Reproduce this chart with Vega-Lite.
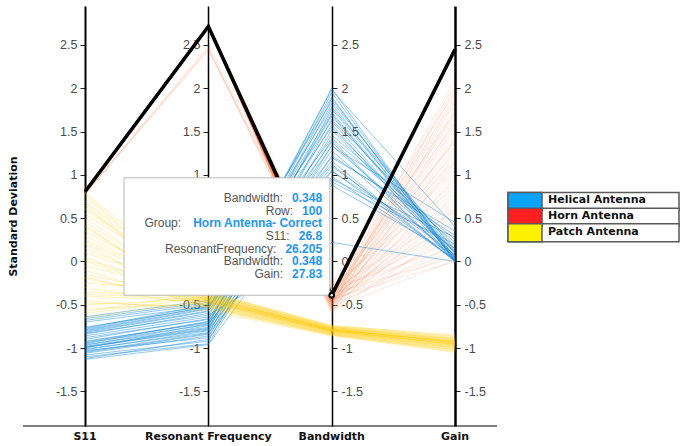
{
  "$schema": "https://vega.github.io/schema/vega-lite/v6.json",
  "padding": {"left": 7, "top": 6, "right": 4, "bottom": 2},
  "background": "white",
  "config": {"view": {"stroke": null}, "font": "Liberation Sans"},
  "center": true,
  "spacing": 9,
  "datasets": {
    "dims": [
      {"dim": "S11", "pos": 0, "label": "S11"},
      {"dim": "ResonantFrequency", "pos": 1, "label": "Resonant Frequency"},
      {"dim": "Bandwidth", "pos": 2, "label": "Bandwidth"},
      {"dim": "Gain", "pos": 3, "label": "Gain"}
    ],
    "groups": [
      {"group": "Helical Antenna"},
      {"group": "Horn Antenna"},
      {"group": "Patch Antenna"}
    ],
    "tip": [
      {"line": 1, "label": "Bandwidth:", "value": "0.348"},
      {"line": 2, "label": "Row:", "value": "100"},
      {"line": 3, "label": "Group:", "value": "Horn Antenna- Correct"},
      {"line": 4, "label": "S11:", "value": "26.8"},
      {"line": 5, "label": "ResonantFrequency:", "value": "26.205"},
      {"line": 6, "label": "Bandwidth:", "value": "0.348"},
      {"line": 7, "label": "Gain:", "value": "27.83"}
    ],
    "antennas": [
      {"row": 1, "group": "Helical Antenna", "S11": -1.00, "ResonantFrequency": -0.74, "Bandwidth": 2.00, "Gain": 0.00},
      {"row": 2, "group": "Helical Antenna", "S11": -0.99, "ResonantFrequency": -0.78, "Bandwidth": 1.95, "Gain": 0.02},
      {"row": 3, "group": "Helical Antenna", "S11": -1.02, "ResonantFrequency": -0.80, "Bandwidth": 1.88, "Gain": 0.05},
      {"row": 4, "group": "Helical Antenna", "S11": -0.97, "ResonantFrequency": -0.72, "Bandwidth": 1.82, "Gain": 0.00},
      {"row": 5, "group": "Helical Antenna", "S11": -1.05, "ResonantFrequency": -0.84, "Bandwidth": 1.76, "Gain": 0.10},
      {"row": 6, "group": "Helical Antenna", "S11": -0.93, "ResonantFrequency": -0.70, "Bandwidth": 1.70, "Gain": 0.03},
      {"row": 7, "group": "Helical Antenna", "S11": -1.03, "ResonantFrequency": -0.88, "Bandwidth": 1.64, "Gain": 0.18},
      {"row": 8, "group": "Helical Antenna", "S11": -0.96, "ResonantFrequency": -0.76, "Bandwidth": 1.58, "Gain": 0.00},
      {"row": 9, "group": "Helical Antenna", "S11": -1.08, "ResonantFrequency": -0.92, "Bandwidth": 1.52, "Gain": 0.06},
      {"row": 10, "group": "Helical Antenna", "S11": -0.95, "ResonantFrequency": -0.69, "Bandwidth": 1.46, "Gain": 0.25},
      {"row": 11, "group": "Helical Antenna", "S11": -1.01, "ResonantFrequency": -0.82, "Bandwidth": 1.40, "Gain": 0.01},
      {"row": 12, "group": "Helical Antenna", "S11": -1.10, "ResonantFrequency": -0.95, "Bandwidth": 1.34, "Gain": 0.12},
      {"row": 13, "group": "Helical Antenna", "S11": -0.98, "ResonantFrequency": -0.77, "Bandwidth": 1.28, "Gain": 0.04},
      {"row": 14, "group": "Helical Antenna", "S11": -1.12, "ResonantFrequency": -0.90, "Bandwidth": 1.22, "Gain": 0.30},
      {"row": 15, "group": "Helical Antenna", "S11": -0.94, "ResonantFrequency": -0.73, "Bandwidth": 1.16, "Gain": 0.00},
      {"row": 16, "group": "Helical Antenna", "S11": -1.06, "ResonantFrequency": -0.86, "Bandwidth": 1.10, "Gain": 0.08},
      {"row": 17, "group": "Helical Antenna", "S11": -0.99, "ResonantFrequency": -0.79, "Bandwidth": 1.04, "Gain": 0.15},
      {"row": 18, "group": "Helical Antenna", "S11": -1.13, "ResonantFrequency": -0.96, "Bandwidth": 0.98, "Gain": 0.02},
      {"row": 19, "group": "Helical Antenna", "S11": -0.92, "ResonantFrequency": -0.71, "Bandwidth": 0.92, "Gain": 0.20},
      {"row": 20, "group": "Helical Antenna", "S11": -0.80, "ResonantFrequency": -0.55, "Bandwidth": 1.90, "Gain": 0.00},
      {"row": 21, "group": "Helical Antenna", "S11": -0.82, "ResonantFrequency": -0.58, "Bandwidth": 1.72, "Gain": 0.05},
      {"row": 22, "group": "Helical Antenna", "S11": -0.78, "ResonantFrequency": -0.52, "Bandwidth": 1.55, "Gain": 0.10},
      {"row": 23, "group": "Helical Antenna", "S11": -0.84, "ResonantFrequency": -0.60, "Bandwidth": 1.38, "Gain": 0.00},
      {"row": 24, "group": "Helical Antenna", "S11": -0.79, "ResonantFrequency": -0.54, "Bandwidth": 1.20, "Gain": 0.35},
      {"row": 25, "group": "Helical Antenna", "S11": -0.81, "ResonantFrequency": -0.57, "Bandwidth": 1.05, "Gain": 0.02},
      {"row": 26, "group": "Helical Antenna", "S11": -0.77, "ResonantFrequency": -0.50, "Bandwidth": 0.88, "Gain": 0.07},
      {"row": 27, "group": "Helical Antenna", "S11": -0.83, "ResonantFrequency": -0.62, "Bandwidth": 0.22, "Gain": 0.00},
      {"row": 28, "group": "Helical Antenna", "S11": -0.66, "ResonantFrequency": -0.47, "Bandwidth": 1.85, "Gain": 0.12},
      {"row": 29, "group": "Helical Antenna", "S11": -0.68, "ResonantFrequency": -0.49, "Bandwidth": 1.62, "Gain": 0.03},
      {"row": 30, "group": "Helical Antenna", "S11": -0.64, "ResonantFrequency": -0.45, "Bandwidth": 1.42, "Gain": 0.22},
      {"row": 31, "group": "Helical Antenna", "S11": -0.70, "ResonantFrequency": -0.52, "Bandwidth": 1.12, "Gain": 0.00},
      {"row": 32, "group": "Helical Antenna", "S11": -0.86, "ResonantFrequency": -0.64, "Bandwidth": 1.98, "Gain": 0.40},
      {"row": 33, "group": "Helical Antenna", "S11": -0.88, "ResonantFrequency": -0.67, "Bandwidth": 1.68, "Gain": 0.09},
      {"row": 34, "group": "Helical Antenna", "S11": -0.90, "ResonantFrequency": -0.66, "Bandwidth": 1.33, "Gain": 0.45},
      {"row": 35, "group": "Helical Antenna", "S11": -1.04, "ResonantFrequency": -0.83, "Bandwidth": 0.95, "Gain": 0.28},
      {"row": 36, "group": "Helical Antenna", "S11": -0.76, "ResonantFrequency": -0.53, "Bandwidth": 1.78, "Gain": 0.14},
      {"row": 37, "group": "Patch Antenna", "S11": 0.80, "ResonantFrequency": -0.40, "Bandwidth": -0.78, "Gain": -0.92},
      {"row": 38, "group": "Patch Antenna", "S11": 0.75, "ResonantFrequency": -0.45, "Bandwidth": -0.80, "Gain": -0.95},
      {"row": 39, "group": "Patch Antenna", "S11": 0.70, "ResonantFrequency": -0.38, "Bandwidth": -0.76, "Gain": -0.90},
      {"row": 40, "group": "Patch Antenna", "S11": 0.65, "ResonantFrequency": -0.50, "Bandwidth": -0.82, "Gain": -0.98},
      {"row": 41, "group": "Patch Antenna", "S11": 0.60, "ResonantFrequency": -0.42, "Bandwidth": -0.79, "Gain": -0.93},
      {"row": 42, "group": "Patch Antenna", "S11": 0.55, "ResonantFrequency": -0.36, "Bandwidth": -0.75, "Gain": -0.88},
      {"row": 43, "group": "Patch Antenna", "S11": 0.50, "ResonantFrequency": -0.48, "Bandwidth": -0.81, "Gain": -0.97},
      {"row": 44, "group": "Patch Antenna", "S11": 0.45, "ResonantFrequency": -0.44, "Bandwidth": -0.78, "Gain": -0.94},
      {"row": 45, "group": "Patch Antenna", "S11": 0.40, "ResonantFrequency": -0.52, "Bandwidth": -0.84, "Gain": -1.02},
      {"row": 46, "group": "Patch Antenna", "S11": 0.35, "ResonantFrequency": -0.39, "Bandwidth": -0.77, "Gain": -0.91},
      {"row": 47, "group": "Patch Antenna", "S11": 0.30, "ResonantFrequency": -0.46, "Bandwidth": -0.80, "Gain": -0.96},
      {"row": 48, "group": "Patch Antenna", "S11": 0.25, "ResonantFrequency": -0.41, "Bandwidth": -0.79, "Gain": -0.92},
      {"row": 49, "group": "Patch Antenna", "S11": 0.20, "ResonantFrequency": -0.55, "Bandwidth": -0.85, "Gain": -1.04},
      {"row": 50, "group": "Patch Antenna", "S11": 0.15, "ResonantFrequency": -0.43, "Bandwidth": -0.78, "Gain": -0.93},
      {"row": 51, "group": "Patch Antenna", "S11": 0.10, "ResonantFrequency": -0.37, "Bandwidth": -0.76, "Gain": -0.89},
      {"row": 52, "group": "Patch Antenna", "S11": 0.05, "ResonantFrequency": -0.49, "Bandwidth": -0.82, "Gain": -0.99},
      {"row": 53, "group": "Patch Antenna", "S11": 0.00, "ResonantFrequency": -0.45, "Bandwidth": -0.80, "Gain": -0.95},
      {"row": 54, "group": "Patch Antenna", "S11": -0.05, "ResonantFrequency": -0.40, "Bandwidth": -0.77, "Gain": -0.90},
      {"row": 55, "group": "Patch Antenna", "S11": -0.10, "ResonantFrequency": -0.53, "Bandwidth": -0.84, "Gain": -1.01},
      {"row": 56, "group": "Patch Antenna", "S11": -0.15, "ResonantFrequency": -0.44, "Bandwidth": -0.79, "Gain": -0.94},
      {"row": 57, "group": "Patch Antenna", "S11": -0.20, "ResonantFrequency": -0.47, "Bandwidth": -0.81, "Gain": -0.97},
      {"row": 58, "group": "Patch Antenna", "S11": -0.25, "ResonantFrequency": -0.35, "Bandwidth": -0.74, "Gain": -0.86},
      {"row": 59, "group": "Patch Antenna", "S11": -0.30, "ResonantFrequency": -0.51, "Bandwidth": -0.83, "Gain": -1.00},
      {"row": 60, "group": "Patch Antenna", "S11": -0.35, "ResonantFrequency": -0.42, "Bandwidth": -0.78, "Gain": -0.92},
      {"row": 61, "group": "Patch Antenna", "S11": -0.40, "ResonantFrequency": -0.46, "Bandwidth": -0.80, "Gain": -0.96},
      {"row": 62, "group": "Patch Antenna", "S11": -0.45, "ResonantFrequency": -0.57, "Bandwidth": -0.86, "Gain": -1.05},
      {"row": 63, "group": "Patch Antenna", "S11": -0.50, "ResonantFrequency": -0.43, "Bandwidth": -0.79, "Gain": -0.93},
      {"row": 64, "group": "Patch Antenna", "S11": -0.55, "ResonantFrequency": -0.48, "Bandwidth": -0.81, "Gain": -0.98},
      {"row": 65, "group": "Patch Antenna", "S11": -0.60, "ResonantFrequency": -0.41, "Bandwidth": -0.77, "Gain": -0.91},
      {"row": 66, "group": "Patch Antenna", "S11": -0.65, "ResonantFrequency": -0.45, "Bandwidth": -0.80, "Gain": -0.95},
      {"row": 67, "group": "Patch Antenna", "S11": 0.78, "ResonantFrequency": -0.47, "Bandwidth": -0.82, "Gain": -0.99},
      {"row": 68, "group": "Patch Antenna", "S11": 0.62, "ResonantFrequency": -0.39, "Bandwidth": -0.76, "Gain": -0.89},
      {"row": 69, "group": "Patch Antenna", "S11": 0.42, "ResonantFrequency": -0.54, "Bandwidth": -0.85, "Gain": -1.03},
      {"row": 70, "group": "Patch Antenna", "S11": 0.22, "ResonantFrequency": -0.42, "Bandwidth": -0.78, "Gain": -0.93},
      {"row": 71, "group": "Patch Antenna", "S11": 0.02, "ResonantFrequency": -0.38, "Bandwidth": -0.75, "Gain": -0.87},
      {"row": 72, "group": "Patch Antenna", "S11": -0.18, "ResonantFrequency": -0.50, "Bandwidth": -0.83, "Gain": -1.00},
      {"row": 73, "group": "Patch Antenna", "S11": -0.38, "ResonantFrequency": -0.44, "Bandwidth": -0.79, "Gain": -0.94},
      {"row": 74, "group": "Patch Antenna", "S11": -0.58, "ResonantFrequency": -0.36, "Bandwidth": -0.74, "Gain": -0.85},
      {"row": 75, "group": "Patch Antenna", "S11": 0.68, "ResonantFrequency": -0.46, "Bandwidth": -0.80, "Gain": -0.96},
      {"row": 76, "group": "Patch Antenna", "S11": -0.48, "ResonantFrequency": -0.52, "Bandwidth": -0.84, "Gain": -1.02},
      {"row": 77, "group": "Horn Antenna", "S11": 0.78, "ResonantFrequency": 2.45, "Bandwidth": -0.42, "Gain": 2.10},
      {"row": 78, "group": "Horn Antenna", "S11": 0.80, "ResonantFrequency": 2.71, "Bandwidth": -0.38, "Gain": 2.05},
      {"row": 79, "group": "Horn Antenna", "S11": 0.81, "ResonantFrequency": 2.70, "Bandwidth": -0.45, "Gain": 1.98},
      {"row": 80, "group": "Horn Antenna", "S11": 0.80, "ResonantFrequency": 2.72, "Bandwidth": -0.50, "Gain": 1.92},
      {"row": 81, "group": "Horn Antenna", "S11": 0.805, "ResonantFrequency": 2.71, "Bandwidth": -0.35, "Gain": 1.88},
      {"row": 82, "group": "Horn Antenna", "S11": 0.80, "ResonantFrequency": 2.70, "Bandwidth": -0.47, "Gain": 1.83},
      {"row": 83, "group": "Horn Antenna", "S11": 0.81, "ResonantFrequency": 2.72, "Bandwidth": -0.55, "Gain": 1.79},
      {"row": 84, "group": "Horn Antenna", "S11": 0.80, "ResonantFrequency": 2.71, "Bandwidth": -0.40, "Gain": 1.74},
      {"row": 85, "group": "Horn Antenna", "S11": 0.79, "ResonantFrequency": 2.47, "Bandwidth": -0.43, "Gain": 1.70},
      {"row": 86, "group": "Horn Antenna", "S11": 0.80, "ResonantFrequency": 2.70, "Bandwidth": -0.32, "Gain": 1.66},
      {"row": 87, "group": "Horn Antenna", "S11": 0.81, "ResonantFrequency": 2.71, "Bandwidth": -0.48, "Gain": 1.62},
      {"row": 88, "group": "Horn Antenna", "S11": 0.80, "ResonantFrequency": 2.72, "Bandwidth": -0.52, "Gain": 1.57},
      {"row": 89, "group": "Horn Antenna", "S11": 0.805, "ResonantFrequency": 2.70, "Bandwidth": -0.37, "Gain": 1.53},
      {"row": 90, "group": "Horn Antenna", "S11": 0.80, "ResonantFrequency": 2.71, "Bandwidth": -0.44, "Gain": 1.49},
      {"row": 91, "group": "Horn Antenna", "S11": 0.81, "ResonantFrequency": 2.70, "Bandwidth": -0.58, "Gain": 1.45},
      {"row": 92, "group": "Horn Antenna", "S11": 0.80, "ResonantFrequency": 2.72, "Bandwidth": -0.41, "Gain": 1.41},
      {"row": 93, "group": "Horn Antenna", "S11": 0.78, "ResonantFrequency": 2.43, "Bandwidth": -0.30, "Gain": 1.37},
      {"row": 94, "group": "Horn Antenna", "S11": 0.80, "ResonantFrequency": 2.71, "Bandwidth": -0.46, "Gain": 1.33},
      {"row": 95, "group": "Horn Antenna", "S11": 0.81, "ResonantFrequency": 2.70, "Bandwidth": -0.53, "Gain": 1.29},
      {"row": 96, "group": "Horn Antenna", "S11": 0.80, "ResonantFrequency": 2.72, "Bandwidth": -0.39, "Gain": 1.25},
      {"row": 97, "group": "Horn Antenna", "S11": 0.805, "ResonantFrequency": 2.71, "Bandwidth": -0.49, "Gain": 1.21},
      {"row": 98, "group": "Horn Antenna", "S11": 0.80, "ResonantFrequency": 2.70, "Bandwidth": -0.36, "Gain": 1.17},
      {"row": 99, "group": "Horn Antenna", "S11": 0.81, "ResonantFrequency": 2.71, "Bandwidth": -0.56, "Gain": 1.13},
      {"row": 100, "group": "Horn Antenna", "S11": 0.805, "ResonantFrequency": 2.713, "Bandwidth": -0.39, "Gain": 2.45},
      {"row": 101, "group": "Horn Antenna", "S11": 0.80, "ResonantFrequency": 2.72, "Bandwidth": -0.43, "Gain": 1.09},
      {"row": 102, "group": "Horn Antenna", "S11": 0.81, "ResonantFrequency": 2.70, "Bandwidth": -0.34, "Gain": 1.05},
      {"row": 103, "group": "Horn Antenna", "S11": 0.80, "ResonantFrequency": 2.71, "Bandwidth": -0.47, "Gain": 1.01},
      {"row": 104, "group": "Horn Antenna", "S11": 0.805, "ResonantFrequency": 2.72, "Bandwidth": -0.60, "Gain": 0.97},
      {"row": 105, "group": "Horn Antenna", "S11": 0.80, "ResonantFrequency": 2.70, "Bandwidth": -0.40, "Gain": 0.93},
      {"row": 106, "group": "Horn Antenna", "S11": 0.81, "ResonantFrequency": 2.71, "Bandwidth": -0.51, "Gain": 0.89},
      {"row": 107, "group": "Horn Antenna", "S11": 0.80, "ResonantFrequency": 2.72, "Bandwidth": -0.28, "Gain": 0.85},
      {"row": 108, "group": "Horn Antenna", "S11": 0.80, "ResonantFrequency": 2.70, "Bandwidth": -0.45, "Gain": 0.81},
      {"row": 109, "group": "Horn Antenna", "S11": 0.81, "ResonantFrequency": 2.71, "Bandwidth": -0.54, "Gain": 0.77},
      {"row": 110, "group": "Horn Antenna", "S11": 0.78, "ResonantFrequency": 2.50, "Bandwidth": -0.38, "Gain": 0.73},
      {"row": 111, "group": "Horn Antenna", "S11": 0.80, "ResonantFrequency": 2.72, "Bandwidth": -0.42, "Gain": 0.69},
      {"row": 112, "group": "Horn Antenna", "S11": 0.805, "ResonantFrequency": 2.70, "Bandwidth": -0.48, "Gain": 0.65},
      {"row": 113, "group": "Horn Antenna", "S11": 0.80, "ResonantFrequency": 2.71, "Bandwidth": -0.57, "Gain": 0.61},
      {"row": 114, "group": "Horn Antenna", "S11": 0.81, "ResonantFrequency": 2.72, "Bandwidth": -0.33, "Gain": 0.57},
      {"row": 115, "group": "Horn Antenna", "S11": 0.80, "ResonantFrequency": 2.70, "Bandwidth": -0.46, "Gain": 0.53},
      {"row": 116, "group": "Horn Antenna", "S11": 0.80, "ResonantFrequency": 2.71, "Bandwidth": -0.50, "Gain": 0.49},
      {"row": 117, "group": "Horn Antenna", "S11": 0.81, "ResonantFrequency": 2.72, "Bandwidth": -0.39, "Gain": 0.45},
      {"row": 118, "group": "Horn Antenna", "S11": 0.805, "ResonantFrequency": 2.70, "Bandwidth": -0.44, "Gain": 0.41},
      {"row": 119, "group": "Horn Antenna", "S11": 0.80, "ResonantFrequency": 2.71, "Bandwidth": -0.59, "Gain": 0.37},
      {"row": 120, "group": "Horn Antenna", "S11": 0.81, "ResonantFrequency": 2.72, "Bandwidth": -0.36, "Gain": 0.33},
      {"row": 121, "group": "Horn Antenna", "S11": 0.80, "ResonantFrequency": 2.70, "Bandwidth": -0.47, "Gain": 0.29},
      {"row": 122, "group": "Horn Antenna", "S11": 0.80, "ResonantFrequency": 2.71, "Bandwidth": -0.41, "Gain": 0.25},
      {"row": 123, "group": "Horn Antenna", "S11": 0.81, "ResonantFrequency": 2.72, "Bandwidth": -0.53, "Gain": 0.21},
      {"row": 124, "group": "Horn Antenna", "S11": 0.805, "ResonantFrequency": 2.70, "Bandwidth": -0.31, "Gain": 0.17},
      {"row": 125, "group": "Horn Antenna", "S11": 0.78, "ResonantFrequency": 2.46, "Bandwidth": -0.45, "Gain": 0.13},
      {"row": 126, "group": "Horn Antenna", "S11": 0.80, "ResonantFrequency": 2.71, "Bandwidth": -0.49, "Gain": 0.09},
      {"row": 127, "group": "Horn Antenna", "S11": 0.81, "ResonantFrequency": 2.72, "Bandwidth": -0.37, "Gain": 0.05},
      {"row": 128, "group": "Horn Antenna", "S11": 0.80, "ResonantFrequency": 2.70, "Bandwidth": -0.55, "Gain": 0.02},
      {"row": 129, "group": "Horn Antenna", "S11": 0.80, "ResonantFrequency": 2.71, "Bandwidth": -0.43, "Gain": 0.00},
      {"row": 130, "group": "Horn Antenna", "S11": 0.81, "ResonantFrequency": 2.72, "Bandwidth": -0.26, "Gain": 1.95},
      {"row": 131, "group": "Horn Antenna", "S11": 0.80, "ResonantFrequency": 2.70, "Bandwidth": -0.40, "Gain": 1.60},
      {"row": 132, "group": "Horn Antenna", "S11": 0.805, "ResonantFrequency": 2.71, "Bandwidth": -0.46, "Gain": 1.40},
      {"row": 133, "group": "Horn Antenna", "S11": 0.80, "ResonantFrequency": 2.72, "Bandwidth": -0.42, "Gain": 1.85},
      {"row": 134, "group": "Horn Antenna", "S11": 0.81, "ResonantFrequency": 2.70, "Bandwidth": -0.50, "Gain": 2.02},
      {"row": 135, "group": "Horn Antenna", "S11": 0.80, "ResonantFrequency": 2.71, "Bandwidth": -0.38, "Gain": 1.72},
      {"row": 136, "group": "Horn Antenna", "S11": 0.80, "ResonantFrequency": 2.72, "Bandwidth": -0.44, "Gain": 0.60},
      {"row": 137, "group": "Horn Antenna", "S11": 0.81, "ResonantFrequency": 2.70, "Bandwidth": -0.48, "Gain": 1.15}
    ]
  },
  "hconcat": [
    {
      "width": 474,
      "height": 420,
      "data": {"name": "antennas"},
      "resolve": {"scale": {"y": "independent"}, "axis": {"y": "independent"}},
      "layer": [
        {
          "transform": [
            {"filter": "datum.group === 'Horn Antenna'"},
            {"fold": ["S11", "ResonantFrequency", "Bandwidth", "Gain"], "as": ["dim", "sd"]},
            {"lookup": "dim", "from": {"data": {"name": "dims"}, "key": "dim", "fields": ["pos"]}}
          ],
          "mark": {"type": "line", "stroke": "#ff5a1f", "strokeWidth": 1, "opacity": 0.13},
          "encoding": {
            "x": {"field": "pos", "type": "quantitative", "scale": {"domain": [-0.503, 3.34], "nice": false, "zero": false}, "axis": null},
            "y": {
              "field": "sd", "type": "quantitative",
              "scale": {"domain": [-1.9, 2.95], "nice": false, "zero": false},
              "axis": {
                "orient": "left", "offset": -62,
                "values": [-1.5, -1, -0.5, 0, 0.5, 1, 1.5, 2, 2.5],
                "labelExpr": "datum.value + ''",
                "grid": false, "domainColor": "#000", "domainWidth": 2,
                "tickColor": "#222", "tickSize": 5, "tickWidth": 1,
                "labelColor": "#4a4a4a", "labelFont": "Liberation Sans", "labelFontSize": 12.5,
                "labelPadding": 3, "labelOverlap": false,
                "title": "Standard Deviation", "titleFont": "DejaVu Sans", "titleFontWeight": "bold",
                "titleFontSize": 11, "titleColor": "#111", "titleAngle": -90,
                "titleBaseline": "middle", "titleX": -71.5, "titleY": 210
              }
            },
            "detail": {"field": "row"},
            "order": {"field": "pos"}
          }
        },
        {
          "transform": [
            {"filter": "datum.group === 'Helical Antenna'"},
            {"fold": ["S11", "ResonantFrequency", "Bandwidth", "Gain"], "as": ["dim", "sd"]},
            {"lookup": "dim", "from": {"data": {"name": "dims"}, "key": "dim", "fields": ["pos"]}}
          ],
          "mark": {"type": "line", "stroke": "#0b86dc", "strokeWidth": 1, "opacity": 0.45},
          "encoding": {
            "x": {"field": "pos", "type": "quantitative", "scale": {"domain": [-0.503, 3.34], "nice": false, "zero": false}, "axis": null},
            "y": {
              "field": "sd", "type": "quantitative",
              "scale": {"domain": [-1.9, 2.95], "nice": false, "zero": false},
              "axis": {
                "orient": "left", "offset": -185,
                "values": [-1.5, -1, -0.5, 0, 0.5, 1, 1.5, 2, 2.5],
                "labelExpr": "datum.value + ''",
                "grid": false, "domainColor": "#000", "domainWidth": 1.5,
                "tickColor": "#222", "tickSize": 5, "tickWidth": 1,
                "labelColor": "#4a4a4a", "labelFont": "Liberation Sans", "labelFontSize": 12.5,
                "labelPadding": 3, "labelOverlap": false, "title": null
              }
            },
            "detail": {"field": "row"},
            "order": {"field": "pos"}
          }
        },
        {
          "transform": [
            {"filter": "datum.group === 'Patch Antenna'"},
            {"fold": ["S11", "ResonantFrequency", "Bandwidth", "Gain"], "as": ["dim", "sd"]},
            {"lookup": "dim", "from": {"data": {"name": "dims"}, "key": "dim", "fields": ["pos"]}}
          ],
          "mark": {"type": "line", "stroke": "#ffc800", "strokeWidth": 1, "opacity": 0.28},
          "encoding": {
            "x": {"field": "pos", "type": "quantitative", "scale": {"domain": [-0.503, 3.34], "nice": false, "zero": false}, "axis": null},
            "y": {
              "field": "sd", "type": "quantitative",
              "scale": {"domain": [-1.9, 2.95], "nice": false, "zero": false},
              "axis": {
                "orient": "right", "offset": -165,
                "values": [-1.5, -1, -0.5, 0, 0.5, 1, 1.5, 2, 2.5],
                "labelExpr": "datum.value + ''",
                "grid": false, "domainColor": "#000", "domainWidth": 1.5,
                "tickColor": "#222", "tickSize": 5, "tickWidth": 1,
                "labelColor": "#4a4a4a", "labelFont": "Liberation Sans", "labelFontSize": 12.5,
                "labelPadding": 4, "labelOverlap": false, "title": null
              }
            },
            "detail": {"field": "row"},
            "order": {"field": "pos"}
          }
        },
        {
          "transform": [
            {"filter": "datum.row === 100"},
            {"fold": ["S11", "ResonantFrequency", "Bandwidth", "Gain"], "as": ["dim", "sd"]},
            {"lookup": "dim", "from": {"data": {"name": "dims"}, "key": "dim", "fields": ["pos"]}}
          ],
          "mark": {"type": "line", "stroke": "#000", "strokeWidth": 3.6, "strokeJoin": "miter"},
          "encoding": {
            "x": {"field": "pos", "type": "quantitative", "scale": {"domain": [-0.503, 3.34], "nice": false, "zero": false}, "axis": null},
            "y": {
              "field": "sd", "type": "quantitative",
              "scale": {"domain": [-1.9, 2.95], "nice": false, "zero": false},
              "axis": {
                "orient": "right", "offset": -42,
                "values": [-1.5, -1, -0.5, 0, 0.5, 1, 1.5, 2, 2.5],
                "labelExpr": "datum.value + ''",
                "grid": false, "domainColor": "#000", "domainWidth": 2.5,
                "tickColor": "#222", "tickSize": 5, "tickWidth": 1,
                "labelColor": "#4a4a4a", "labelFont": "Liberation Sans", "labelFontSize": 12.5,
                "labelPadding": 4, "labelOverlap": false, "title": null
              }
            },
            "order": {"field": "pos"}
          }
        },
        {
          "data": {"values": [{}]},
          "mark": {"type": "rule", "stroke": "#000", "strokeWidth": 1},
          "encoding": {
            "y": {"datum": -1.9, "type": "quantitative", "scale": {"domain": [-1.9, 2.95], "nice": false, "zero": false}, "axis": null}
          }
        },
        {
          "data": {"name": "dims"},
          "mark": {"type": "text", "align": "center", "baseline": "middle", "dy": 11, "font": "DejaVu Sans", "fontWeight": "bold", "fontSize": 11, "fill": "#111"},
          "encoding": {
            "x": {"field": "pos", "type": "quantitative", "scale": {"domain": [-0.503, 3.34], "nice": false, "zero": false}, "axis": null},
            "y": {"datum": -1.9, "type": "quantitative", "scale": {"domain": [-1.9, 2.95], "nice": false, "zero": false}, "axis": null},
            "text": {"field": "label"}
          }
        },
        {
          "data": {"values": [{}]},
          "mark": {"type": "rect", "fill": "#fff", "stroke": "#b8b8b8", "strokeWidth": 1},
          "encoding": {
            "x": {"datum": 0.316, "type": "quantitative", "scale": {"domain": [-0.503, 3.34], "nice": false, "zero": false}, "axis": null},
            "x2": {"datum": 1.985},
            "y": {"datum": 0.966, "type": "quantitative", "scale": {"domain": [-1.9, 2.95], "nice": false, "zero": false}, "axis": null},
            "y2": {"datum": -0.39}
          }
        },
        {
          "data": {"name": "tip"},
          "transform": [{"filter": "datum.line === 1 || datum.line === 6 || datum.line === 7"}],
          "mark": {"type": "text", "align": "right", "baseline": "middle", "dx": -39, "font": "Liberation Sans", "fontSize": 12, "fill": "#555"},
          "encoding": {
            "x": {"datum": 1.922, "type": "quantitative", "scale": {"domain": [-0.503, 3.34], "nice": false, "zero": false}, "axis": null},
            "y": {"datum": 0.966, "type": "quantitative", "scale": {"domain": [-1.9, 2.95], "nice": false, "zero": false}, "axis": null},
            "yOffset": {"field": "line", "type": "ordinal", "scale": {"type": "point", "domain": [1, 2, 3, 4, 5, 6, 7], "range": [13.7, 102.7]}},
            "text": {"field": "label"}
          }
        },
        {
          "data": {"name": "tip"},
          "transform": [{"filter": "datum.line === 2"}],
          "mark": {"type": "text", "align": "right", "baseline": "middle", "dx": -29, "font": "Liberation Sans", "fontSize": 12, "fill": "#555"},
          "encoding": {
            "x": {"datum": 1.922, "type": "quantitative", "scale": {"domain": [-0.503, 3.34], "nice": false, "zero": false}, "axis": null},
            "y": {"datum": 0.966, "type": "quantitative", "scale": {"domain": [-1.9, 2.95], "nice": false, "zero": false}, "axis": null},
            "yOffset": {"field": "line", "type": "ordinal", "scale": {"type": "point", "domain": [1, 2, 3, 4, 5, 6, 7], "range": [13.7, 102.7]}},
            "text": {"field": "label"}
          }
        },
        {
          "data": {"name": "tip"},
          "transform": [{"filter": "datum.line === 3"}],
          "mark": {"type": "text", "align": "right", "baseline": "middle", "dx": -141, "font": "Liberation Sans", "fontSize": 12, "fill": "#555"},
          "encoding": {
            "x": {"datum": 1.922, "type": "quantitative", "scale": {"domain": [-0.503, 3.34], "nice": false, "zero": false}, "axis": null},
            "y": {"datum": 0.966, "type": "quantitative", "scale": {"domain": [-1.9, 2.95], "nice": false, "zero": false}, "axis": null},
            "yOffset": {"field": "line", "type": "ordinal", "scale": {"type": "point", "domain": [1, 2, 3, 4, 5, 6, 7], "range": [13.7, 102.7]}},
            "text": {"field": "label"}
          }
        },
        {
          "data": {"name": "tip"},
          "transform": [{"filter": "datum.line === 4"}],
          "mark": {"type": "text", "align": "right", "baseline": "middle", "dx": -32.5, "font": "Liberation Sans", "fontSize": 12, "fill": "#555"},
          "encoding": {
            "x": {"datum": 1.922, "type": "quantitative", "scale": {"domain": [-0.503, 3.34], "nice": false, "zero": false}, "axis": null},
            "y": {"datum": 0.966, "type": "quantitative", "scale": {"domain": [-1.9, 2.95], "nice": false, "zero": false}, "axis": null},
            "yOffset": {"field": "line", "type": "ordinal", "scale": {"type": "point", "domain": [1, 2, 3, 4, 5, 6, 7], "range": [13.7, 102.7]}},
            "text": {"field": "label"}
          }
        },
        {
          "data": {"name": "tip"},
          "transform": [{"filter": "datum.line === 5"}],
          "mark": {"type": "text", "align": "right", "baseline": "middle", "dx": -45.7, "font": "Liberation Sans", "fontSize": 12, "fill": "#555"},
          "encoding": {
            "x": {"datum": 1.922, "type": "quantitative", "scale": {"domain": [-0.503, 3.34], "nice": false, "zero": false}, "axis": null},
            "y": {"datum": 0.966, "type": "quantitative", "scale": {"domain": [-1.9, 2.95], "nice": false, "zero": false}, "axis": null},
            "yOffset": {"field": "line", "type": "ordinal", "scale": {"type": "point", "domain": [1, 2, 3, 4, 5, 6, 7], "range": [13.7, 102.7]}},
            "text": {"field": "label"}
          }
        },
        {
          "data": {"name": "tip"},
          "mark": {"type": "text", "align": "right", "baseline": "middle", "font": "Liberation Sans", "fontSize": 12, "fontWeight": "bold", "fill": "#2196f3"},
          "encoding": {
            "x": {"datum": 1.922, "type": "quantitative", "scale": {"domain": [-0.503, 3.34], "nice": false, "zero": false}, "axis": null},
            "y": {"datum": 0.966, "type": "quantitative", "scale": {"domain": [-1.9, 2.95], "nice": false, "zero": false}, "axis": null},
            "yOffset": {"field": "line", "type": "ordinal", "scale": {"type": "point", "domain": [1, 2, 3, 4, 5, 6, 7], "range": [13.7, 102.7]}},
            "text": {"field": "value"}
          }
        },
        {
          "data": {"values": [{}]},
          "mark": {"type": "point", "filled": true, "fill": "#fff", "stroke": "#000", "strokeWidth": 2, "size": 22, "opacity": 1},
          "encoding": {
            "x": {"datum": 2, "type": "quantitative", "scale": {"domain": [-0.503, 3.34], "nice": false, "zero": false}, "axis": null},
            "y": {"datum": -0.39, "type": "quantitative", "scale": {"domain": [-1.9, 2.95], "nice": false, "zero": false}, "axis": null}
          }
        }
      ]
    },
    {
      "width": 171,
      "height": 63,
      "data": {"name": "groups"},
      "encoding": {
        "y": {
          "field": "group", "type": "nominal", "sort": null,
          "scale": {"type": "band", "paddingInner": 0, "paddingOuter": 0.51, "align": 0},
          "axis": null
        }
      },
      "layer": [
        {
          "mark": {"type": "rect", "fill": "#fff", "stroke": "#5a5a5a", "strokeWidth": 1.5},
          "encoding": {
            "x": {"datum": 0, "type": "quantitative", "scale": {"domain": [0, 5.03]}, "axis": null},
            "x2": {"datum": 5.03}
          }
        },
        {
          "mark": {"type": "rect", "stroke": "#5a5a5a", "strokeWidth": 1.5},
          "encoding": {
            "x": {"datum": 0, "type": "quantitative", "scale": {"domain": [0, 5.03]}, "axis": null},
            "x2": {"datum": 1},
            "fill": {
              "field": "group", "type": "nominal",
              "scale": {"domain": ["Helical Antenna", "Horn Antenna", "Patch Antenna"], "range": ["#0aa2fa", "#ff1f1f", "#fff200"]},
              "legend": null
            }
          }
        },
        {
          "mark": {"type": "text", "align": "left", "baseline": "middle", "dx": 6, "font": "DejaVu Sans", "fontWeight": "bold", "fontSize": 11, "fill": "#111"},
          "encoding": {
            "x": {"datum": 1, "type": "quantitative", "scale": {"domain": [0, 5.03]}, "axis": null},
            "text": {"field": "group"}
          }
        }
      ]
    }
  ]
}
